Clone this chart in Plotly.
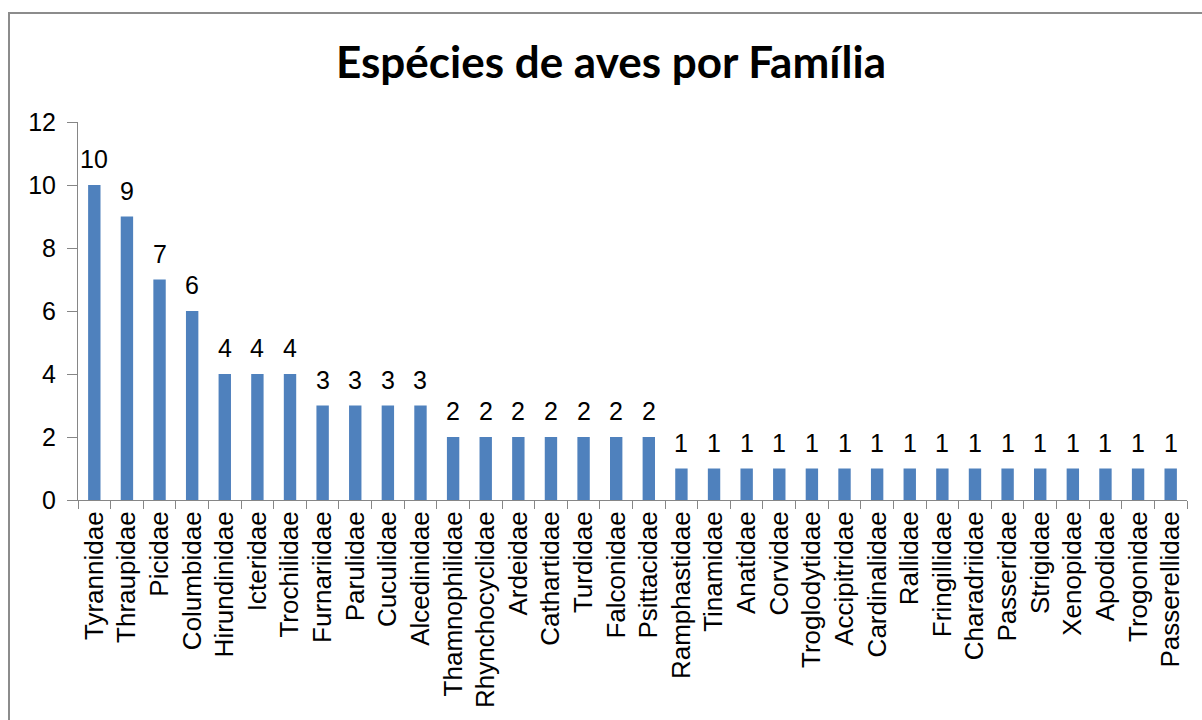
import plotly.graph_objects as go

# Bird species count per family
familias = [
    "Tyrannidae", "Thraupidae", "Picidae", "Columbidae", "Hirundinidae",
    "Icteridae", "Trochilidae", "Furnariidae", "Parulidae", "Cuculidae",
    "Alcedinidae", "Thamnophilidae", "Rhynchocyclidae", "Ardeidae",
    "Cathartidae", "Turdidae", "Falconidae", "Psittacidae", "Ramphastidae",
    "Tinamidae", "Anatidae", "Corvidae", "Troglodytidae", "Accipitridae",
    "Cardinalidae", "Rallidae", "Fringillidae", "Charadriidae", "Passeridae",
    "Strigidae", "Xenopidae", "Apodidae", "Trogonidae", "Passerellidae",
]
especies = [10, 9, 7, 6, 4, 4, 4, 3, 3, 3, 3, 2, 2, 2, 2, 2, 2, 2,
            1, 1, 1, 1, 1, 1, 1, 1, 1, 1, 1, 1, 1, 1, 1, 1]
y_ticks = [0, 2, 4, 6, 8, 10, 12]

W, H = 1202, 720
L, R, T, B = 78, 15, 122, 220
pw, ph = W - L - R, H - T - B

AXIS = "#868686"
FONT = "Liberation Sans, Arial, sans-serif"

fig = go.Figure()
fig.add_trace(go.Bar(
    x=familias, y=especies,
    marker=dict(color="#4F81BD", line=dict(width=0)),
    hoverinfo="x+y",
))

# value labels above each bar
for fam, val in zip(familias, especies):
    fig.add_annotation(
        x=fam, y=val, text=str(val), showarrow=False,
        yanchor="middle", yshift=26,
        font=dict(family=FONT, size=25, color="#000000"),
    )

# outer chart frame (top and left edges visible)
def px_to_paper_x(px):
    return (px - L) / pw

def px_to_paper_y(py):
    return (H - B - py) / ph

fig.add_shape(
    type="rect", xref="paper", yref="paper",
    x0=px_to_paper_x(9), x1=px_to_paper_x(1215),
    y0=px_to_paper_y(735), y1=px_to_paper_y(13),
    line=dict(color="#8C8C8C", width=2), fillcolor="rgba(0,0,0,0)",
    layer="below",
)

fig.update_layout(
    width=W, height=H,
    margin=dict(l=L, r=R, t=T, b=B, autoexpand=False),
    paper_bgcolor="#FFFFFF", plot_bgcolor="#FFFFFF",
    bargap=0.62, showlegend=False,
    title=dict(
        text="<b>Espécies de aves por Família</b>",
        x=611 / W, xanchor="center", y=1 - 63 / H, yanchor="middle",
        font=dict(family="Lato, Open Sans, sans-serif", size=44, color="#000000"),
    ),
    xaxis=dict(
        type="category", range=[-0.5, len(familias) - 0.5],
        showline=True, linecolor=AXIS, linewidth=1,
        ticks="outside", tickson="boundaries", ticklen=8, tickcolor=AXIS,
        tickangle=-90, showgrid=False, zeroline=False,
        tickfont=dict(family=FONT, size=26, color="#000000"),
    ),
    yaxis=dict(
        range=[0, 12], tickvals=y_ticks,
        showline=True, linecolor=AXIS, linewidth=1,
        ticks="outside", ticklen=10, tickcolor=AXIS,
        ticklabelstandoff=6,
        showgrid=False, zeroline=False,
        tickfont=dict(family=FONT, size=25, color="#000000"),
    ),
)

fig.write_html("out.html")
